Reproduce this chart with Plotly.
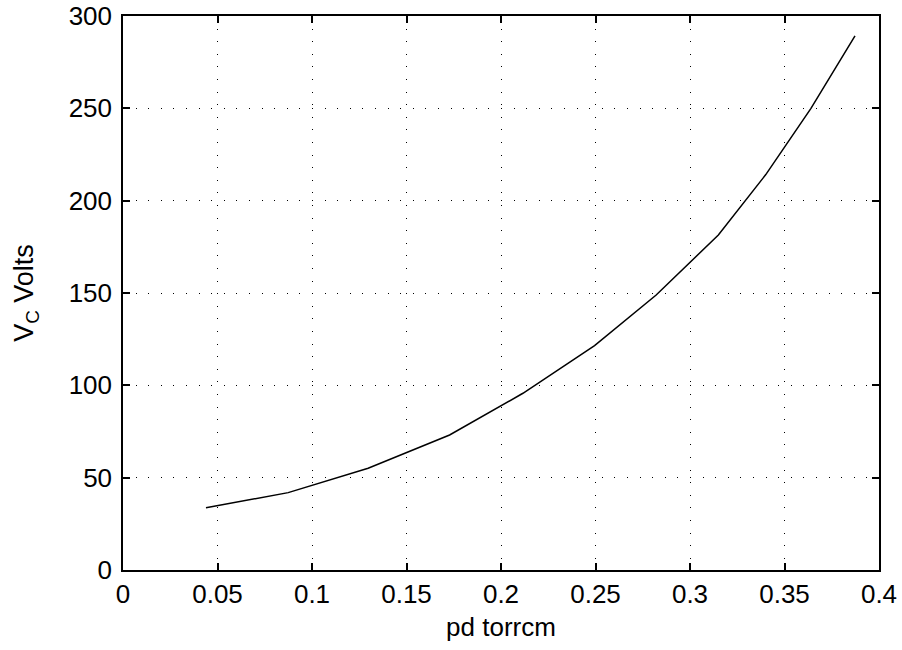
import plotly.graph_objects as go

# pressure-distance product (torr*cm) and breakdown voltage (V)
pd_torrcm = [0.0439, 0.0874, 0.1297, 0.1728, 0.2116, 0.2495, 0.2821, 0.3150, 0.3400, 0.3640, 0.3873]
vc_volts = [33.7, 41.9, 55.1, 73.1, 95.7, 121.5, 148.9, 181.4, 214.0, 250.0, 289.2]

x_ticks = [0, 0.05, 0.1, 0.15, 0.2, 0.25, 0.3, 0.35, 0.4]
x_tick_text = ["0", "0.05", "0.1", "0.15", "0.2", "0.25", "0.3", "0.35", "0.4"]
y_ticks = [0, 50, 100, 150, 200, 250, 300]

FONT_SIZE = 26

fig = go.Figure()
fig.add_trace(go.Scatter(x=pd_torrcm, y=vc_volts, mode="lines",
                         line=dict(color="black", width=1.5), showlegend=False))

axis_common = dict(
    showline=True, linecolor="black", linewidth=1.5, mirror="ticks",
    ticks="inside", ticklen=7, tickwidth=1.5, tickcolor="black",
    showgrid=True, gridcolor="black", griddash="1px,11.6px", gridwidth=1,
    zeroline=False, tickfont=dict(size=FONT_SIZE, color="black"),
    automargin=False,
)

fig.update_xaxes(range=[0, 0.4], tickvals=x_ticks, ticktext=x_tick_text,
                 title=dict(text="pd torrcm", font=dict(size=FONT_SIZE, color="black"), standoff=10),
                 **axis_common)
fig.update_yaxes(range=[0, 300], tickvals=y_ticks, ticklabelstandoff=4,
                 title=dict(text="V<sub>C</sub> Volts", font=dict(size=FONT_SIZE + 1, color="black"), standoff=27),
                 **axis_common)

fig.update_layout(
    width=902, height=650,
    margin=dict(l=123, r=23, t=16, b=80),
    paper_bgcolor="white", plot_bgcolor="white",
    font=dict(family="Liberation Sans, Arial, sans-serif", color="black"),
)

fig.write_html("out.html")
